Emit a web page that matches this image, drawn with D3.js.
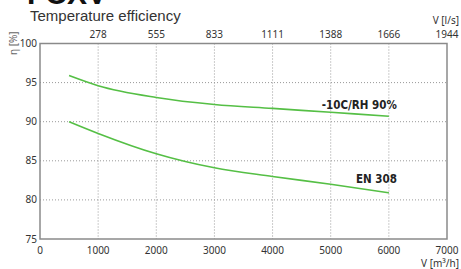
<!DOCTYPE html>
<html>
<head>
<meta charset="utf-8">
<script src="https://cdn.jsdelivr.net/npm/d3@7"></script>
<style>
  body { margin: 0; background: #fff; }
  svg { display: block; }
  .tick-label { font-family: "Noto Sans", sans-serif; font-size: 10px; fill: #333; }
  .curve-label { font-family: "DejaVu Sans Condensed", "DejaVu Sans", sans-serif; font-stretch: condensed; font-weight: bold; font-size: 11.5px; fill: #222; }
</style>
</head>
<body>
<script>
// Data
var airflow = [500, 1000, 2000, 3000, 4000, 5000, 6000];
var coldHumid = [95.9, 94.6, 93.1, 92.2, 91.7, 91.2, 90.7];
var en308 = [90.0, 88.5, 85.9, 84.1, 83.0, 82.0, 80.9];
var seriesNames = ["-10C/RH 90%", "EN 308"];

var xTicks = [0, 1000, 2000, 3000, 4000, 5000, 6000, 7000];
var topTickLabels = ["278", "555", "833", "1111", "1388", "1666", "1944"];
var yTicks = [75, 80, 85, 90, 95, 100];

window.onload = function() {
  drawChart();
};

function drawChart() {
  var width = 461;
  var height = 269;
  var left = 40, right = 447, top = 43.5, bottom = 239;

  var svg = d3.select("body")
              .append("svg")
              .attr("width", width)
              .attr("height", height);

  var scaleX = d3.scaleLinear().domain([0, 7000]).range([left, right]);
  var scaleY = d3.scaleLinear().domain([75, 100]).range([bottom, top]);

  // Clipped heading at the very top (only its lower edge shows)
  svg.append("text")
     .text("FCXV")
     .attr("x", 27)
     .attr("y", 4)
     .style("font-family", "Liberation Sans, sans-serif")
     .style("font-weight", "bold")
     .style("font-size", "30px")
     .style("fill", "#111");

  // Title
  svg.append("text")
     .text("Temperature efficiency")
     .attr("x", 30)
     .attr("y", 21)
     .style("font-family", "Liberation Sans, sans-serif")
     .style("font-size", "15px")
     .style("fill", "#333");

  // Grid lines
  svg.selectAll(".vgrid")
     .data(xTicks.slice(1, -1))
     .enter()
     .append("line")
     .attr("x1", function(d) { return scaleX(d); })
     .attr("x2", function(d) { return scaleX(d); })
     .attr("y1", top)
     .attr("y2", bottom)
     .attr("stroke", "#999")
     .attr("stroke-width", 1)
     .attr("stroke-dasharray", "1,2");

  svg.selectAll(".hgrid")
     .data(yTicks.slice(1, -1))
     .enter()
     .append("line")
     .attr("x1", left)
     .attr("x2", right)
     .attr("y1", function(d) { return scaleY(d); })
     .attr("y2", function(d) { return scaleY(d); })
     .attr("stroke", "#999")
     .attr("stroke-width", 1)
     .attr("stroke-dasharray", "1,2");

  // Frame
  svg.append("rect")
     .attr("x", left)
     .attr("y", top)
     .attr("width", right - left)
     .attr("height", bottom - top)
     .attr("fill", "none")
     .attr("stroke", "#8a8a8a")
     .attr("stroke-width", 1.5);

  // Bottom tick labels
  svg.selectAll(".xlab")
     .data(xTicks)
     .enter()
     .append("text")
     .attr("class", "tick-label")
     .attr("x", function(d) { return scaleX(d); })
     .attr("y", 254)
     .attr("text-anchor", "middle")
     .text(function(d) { return d; });

  // Top tick labels (l/s)
  svg.selectAll(".tlab")
     .data(topTickLabels)
     .enter()
     .append("text")
     .attr("class", "tick-label")
     .attr("x", function(d, i) { return scaleX(xTicks[i + 1]); })
     .attr("y", 38)
     .attr("text-anchor", "middle")
     .text(function(d) { return d; });

  // Left tick labels
  svg.selectAll(".ylab")
     .data(yTicks)
     .enter()
     .append("text")
     .attr("class", "tick-label")
     .attr("x", left - 3)
     .attr("y", function(d) { return scaleY(d) + 3.5; })
     .attr("text-anchor", "end")
     .text(function(d) { return d; });

  // Axis names
  svg.append("text")
     .attr("class", "tick-label")
     .attr("x", 459)
     .attr("y", 267)
     .attr("text-anchor", "end")
     .text("V [m³/h]");

  svg.append("text")
     .attr("class", "tick-label")
     .attr("x", 459)
     .attr("y", 24)
     .attr("text-anchor", "end")
     .text("V [l/s]");

  svg.append("text")
     .attr("class", "tick-label")
     .attr("transform", "translate(17,55) rotate(-90)")
     .attr("text-anchor", "start")
     .style("fill", "#666")
     .text("η [%]");

  // Curves
  var line = d3.line()
               .x(function(d, i) { return scaleX(airflow[i]); })
               .y(function(d) { return scaleY(d); })
               .curve(d3.curveMonotoneX);

  var labelLift = [7, 10];
  [coldHumid, en308].forEach(function(series, k) {
    svg.append("path")
       .datum(series)
       .attr("d", line)
       .attr("fill", "none")
       .attr("stroke", "#55bf45")
       .attr("stroke-width", 1.6);

    var last = series[series.length - 1];
    svg.append("text")
       .attr("class", "curve-label")
       .attr("x", scaleX(airflow[airflow.length - 1]) + 8)
       .attr("y", scaleY(last) - labelLift[k])
       .attr("text-anchor", "end")
       .text(seriesNames[k]);
  });
}
</script>
</body>
</html>
